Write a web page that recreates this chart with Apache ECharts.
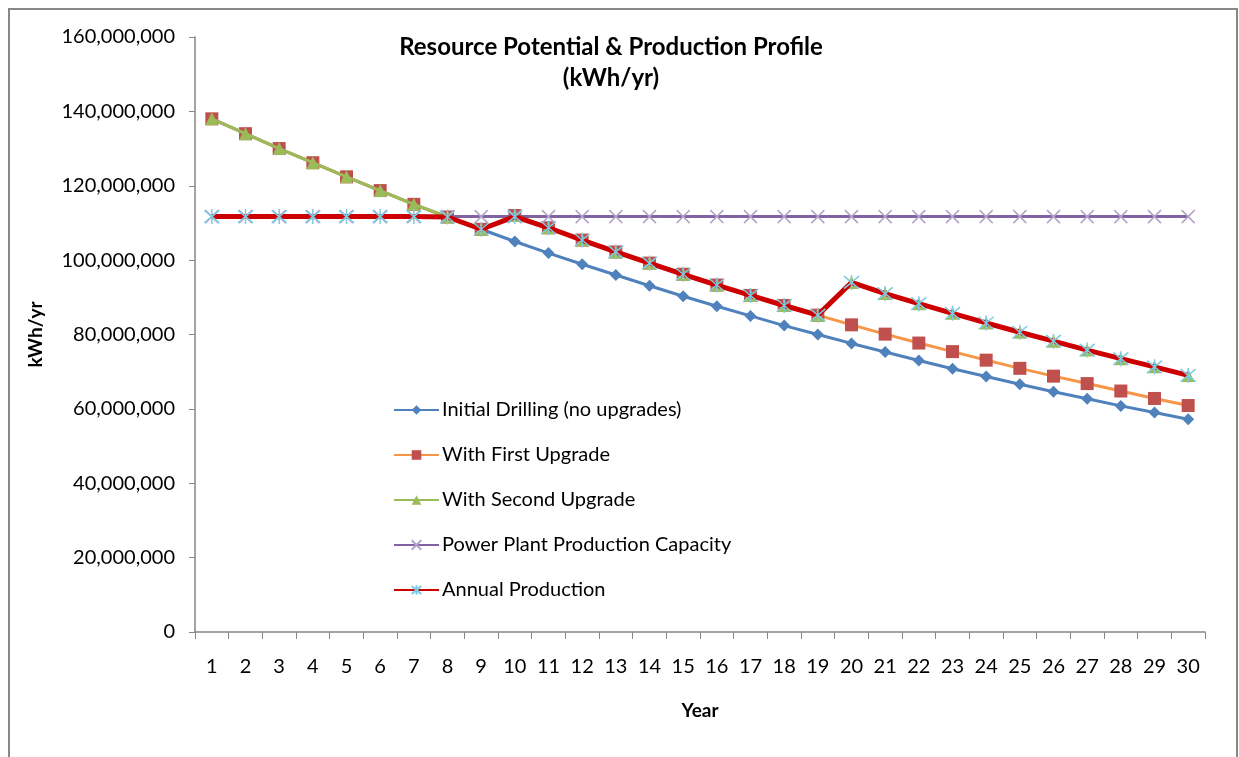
<!DOCTYPE html>
<html><head><meta charset="utf-8">
<script src="https://cdn.jsdelivr.net/npm/echarts@6/dist/echarts.min.js"></script>
<style>html,body{margin:0;padding:0;background:#fff}#c{width:1239px;height:757px}</style>
</head><body><div id="c"></div>
<script>
const years = ['1','2','3','4','5','6','7','8','9','10','11','12','13','14','15','16','17','18','19','20','21','22','23','24','25','26','27','28','29','30'];
const initialDrilling = [138.0,134.0,130.0,126.2,122.4,118.7,115.0,111.6,108.3,105.0,101.9,98.9,96.0,93.1,90.3,87.6,85.0,82.4,80.0,77.6,75.3,73.0,70.8,68.7,66.6,64.6,62.7,60.8,59.0,57.2];
const firstUpgrade = [138.0,134.0,130.0,126.2,122.4,118.7,115.0,111.6,108.3,112.0,108.7,105.4,102.2,99.2,96.2,93.3,90.5,87.8,85.2,82.6,80.1,77.7,75.4,73.1,70.9,68.8,66.8,64.8,62.8,60.9];
const secondUpgrade = [138.0,134.0,130.0,126.2,122.4,118.7,115.0,111.6,108.3,112.0,108.7,105.4,102.2,99.2,96.2,93.3,90.5,87.8,85.2,94.0,91.0,88.3,85.7,83.1,80.6,78.2,75.8,73.5,71.3,69.0];
const plantCapacity = [111.7,111.7,111.7,111.7,111.7,111.7,111.7,111.7,111.7,111.7,111.7,111.7,111.7,111.7,111.7,111.7,111.7,111.7,111.7,111.7,111.7,111.7,111.7,111.7,111.7,111.7,111.7,111.7,111.7,111.7];
const annualProduction = [111.7,111.7,111.7,111.7,111.7,111.7,111.7,111.6,108.3,111.7,108.7,105.4,102.2,99.2,96.2,93.3,90.5,87.8,85.2,94.0,91.0,88.3,85.7,83.1,80.6,78.2,75.8,73.5,71.3,69.0];
const seriesNames = ['Initial Drilling (no upgrades)','With First Upgrade','With Second Upgrade','Power Plant Production Capacity','Annual Production'];
const M = 1e6;
const toKWh = a => a.map(v => Math.round(v * M));

const FONT = 'Lato';
const xPath = 'path://M0,0L10,10M10,0L0,10';
const starPath = 'path://M0,0L10,10M10,0L0,10M5,-1L5,11';

const chart = echarts.init(document.getElementById('c'), null, {renderer: 'canvas'});
chart.setOption({
  backgroundColor: '#fff',
  animation: false,
  textStyle: {fontFamily: FONT},
  graphic: [{
    type: 'rect', shape: {x: 9, y: 9, width: 1228, height: 760},
    style: {fill: 'none', stroke: '#878787', lineWidth: 2}, silent: true, z: -1
  }],
  title: {
    text: 'Resource Potential & Production Profile\n(kWh/yr)',
    left: 606, textAlign: 'center', top: 27,
    textStyle: {fontFamily: FONT, fontSize: 24, fontWeight: 'bold', color: '#000', lineHeight: 31}
  },
  legend: {
    orient: 'vertical', left: 388, top: 395, itemGap: 25, itemWidth: 45, itemHeight: 12,
    data: seriesNames,
    textStyle: {fontFamily: FONT, fontSize: 20, color: '#000', padding: [0, 0, 0, -2]}
  },
  grid: {left: 195, right: 34, top: 37, bottom: 125, containLabel: false},
  xAxis: {
    type: 'category', data: years, boundaryGap: true,
    name: 'Year', nameLocation: 'middle', nameGap: 69,
    nameTextStyle: {fontFamily: FONT, fontSize: 19, fontWeight: 'bold', color: '#000'},
    axisLine: {lineStyle: {color: '#868686', width: 1.5}},
    axisTick: {show: true, length: 7, alignWithLabel: false, lineStyle: {color: '#868686'}},
    axisLabel: {fontFamily: FONT, fontSize: 20, color: '#000', margin: 25, interval: 0}
  },
  yAxis: {
    type: 'value', min: 0, max: 160 * M, interval: 20 * M,
    name: 'kWh/yr', nameLocation: 'middle', nameGap: 150, nameRotate: 90,
    nameTextStyle: {fontFamily: FONT, fontSize: 19, fontWeight: 'bold', color: '#000'},
    axisLine: {show: true, lineStyle: {color: '#868686', width: 1.5}},
    axisTick: {show: true, length: 6, lineStyle: {color: '#868686'}},
    splitLine: {show: false},
    axisLabel: {fontFamily: FONT, fontSize: 20, color: '#000', margin: 20,
      formatter: v => v.toLocaleString('en-US')}
  },
  series: [
    {name: seriesNames[0], type: 'line', data: toKWh(initialDrilling), z: 2,
     symbol: 'diamond', symbolSize: 12, showAllSymbol: true,
     lineStyle: {color: '#4f81bd', width: 3},
     itemStyle: {color: '#4f81bd'}},
    {name: seriesNames[1], type: 'line', data: toKWh(firstUpgrade), z: 3,
     symbol: 'rect', symbolSize: 13, showAllSymbol: true,
     lineStyle: {color: '#f79646', width: 3},
     itemStyle: {color: '#c0504d'}},
    {name: seriesNames[2], type: 'line', data: toKWh(secondUpgrade), z: 4,
     symbol: 'triangle', symbolSize: 13, showAllSymbol: true,
     lineStyle: {color: '#9bbb59', width: 3},
     itemStyle: {color: '#9bbb59'}},
    {name: seriesNames[3], type: 'line', data: toKWh(plantCapacity), z: 5,
     symbol: xPath, symbolSize: 13, showAllSymbol: true,
     lineStyle: {color: '#8064a2', width: 3},
     itemStyle: {color: 'rgba(0,0,0,0)', borderColor: '#b3a2c7', borderWidth: 1.5}},
    {name: seriesNames[4], type: 'line', data: toKWh(annualProduction), z: 6,
     symbol: starPath, symbolSize: 15, showAllSymbol: true,
     lineStyle: {color: '#cc0000', width: 5},
     itemStyle: {color: 'rgba(0,0,0,0)', borderColor: '#7dcbe0', borderWidth: 1.5}}
  ]
});
</script>
</body></html>
